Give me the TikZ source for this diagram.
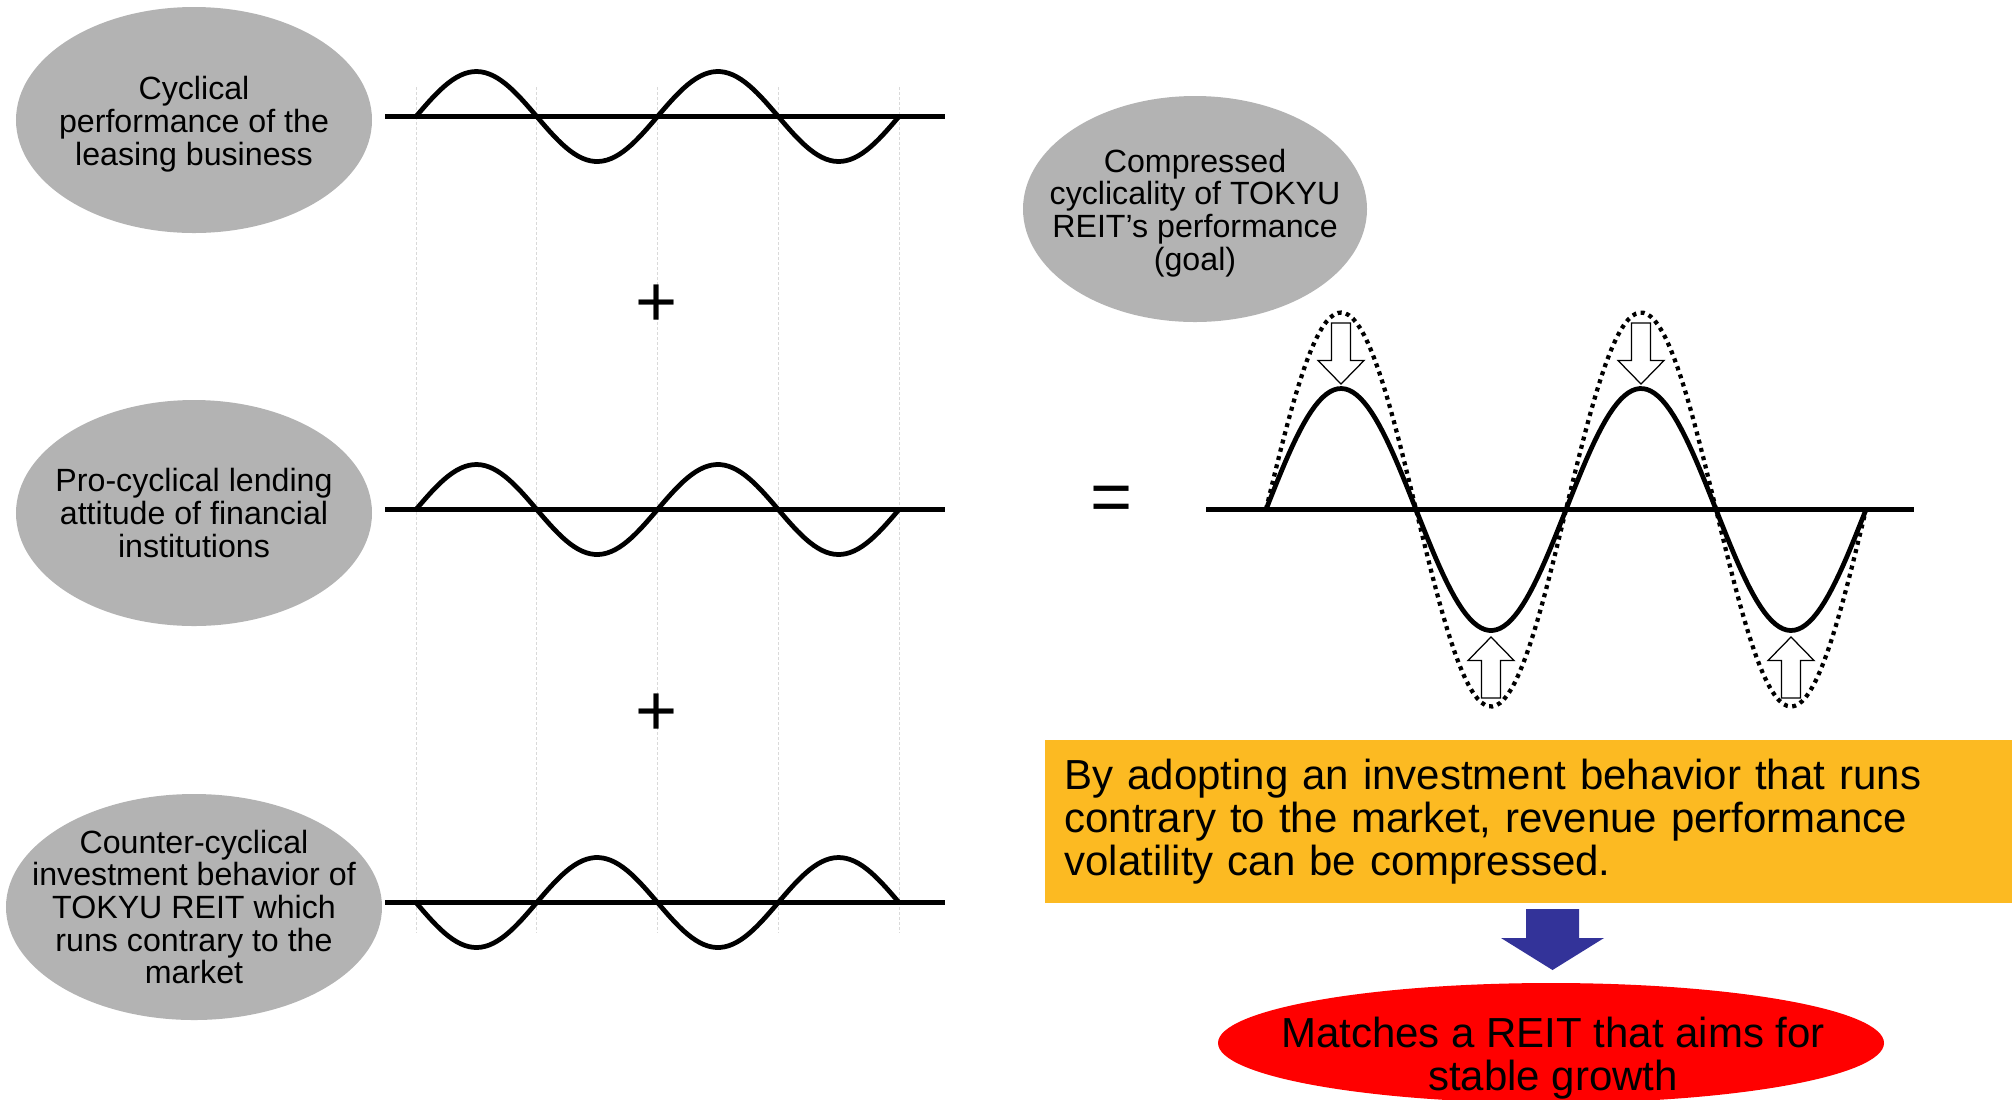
\documentclass[tikz,border=0pt]{standalone}
\usepackage{fontspec}
\setmainfont{Liberation Sans}
\usepackage{tikz}
\usetikzlibrary{shapes.geometric}
\usepackage{xcolor}
\definecolor{ovalgray}{RGB}{179,179,179}
\definecolor{noteorange}{RGB}{252,186,34}
\definecolor{arrowblue}{RGB}{51,51,153}
\definecolor{goalred}{RGB}{255,0,0}

\begin{document}
\begin{tikzpicture}[
    x=0.2mm,
    y=-0.2mm,
    wave/.style={line width=0.95mm},
    guide/.style={line width=0.2mm, draw=black!15, dash pattern=on 0.6mm off 0.4mm}
]

\tikzstyle{oval}=[
    ellipse,
    fill=ovalgray,
    inner sep=0pt,
    minimum width=71.2mm,
    minimum height=45.2mm
]
\tikzstyle{ovaltext}=[align=center, inner sep=0pt, font=\fontsize{18.3}{18.6}\selectfont]
\tikzstyle{bigtext}=[font=\fontsize{23.9}{24.4}\selectfont]
\tikzstyle{sign}=[inner sep=0pt, font=\fontsize{41}{41}\selectfont]

\useasboundingbox (0,0) rectangle (2012,1099);

% three drivers
\node[oval] (lease) at (194,120) {};
\node[ovaltext] (leaseT) at (194,124) {Cyclical\\performance of the\\leasing business};
\node[oval] (lend) at (194,513) {};
\node[ovaltext] (lendT) at (lend) {Pro-cyclical lending\\attitude of financial\\institutions};
\node[oval, minimum width=75.2mm] (counter) at (194,907) {};
\node[ovaltext] (counterT) at (counter) {Counter-cyclical\\investment behavior of\\TOKYU REIT which\\runs contrary to the\\market};

% guide lines
\foreach \gx in {416,536.75,657.5,778.25,899}
    \draw[guide] (\gx,87) -- (\gx,933);

% small cycles
\foreach \ay in {116.5,509.5} {
    \draw[wave] (385,\ay) -- (945,\ay);
    \draw[wave] plot[domain=0:720, samples=120] ({416+\x/180*120.75},{\ay-45*sin(\x)});
}
\draw[wave] (385,902.5) -- (945,902.5);
\draw[wave] plot[domain=0:720, samples=120] ({416+\x/180*120.75},{902.5+45*sin(\x)});

\node[sign] (plusA) at (657,306) {+};
\node[sign] (plusB) at (657,715) {+};
\node[sign] (equal) at (1112,504) {=};

% result
\node[oval, minimum width=68.8mm] (goal) at (1195,209) {};
\node[ovaltext] (goalT) at (1195,213) {Compressed\\cyclicality of TOKYU\\REIT’s performance\\(goal)};

\draw[wave] (1206,509.5) -- (1914,509.5);
\draw[line width=0.85mm, dash pattern=on 0.8mm off 0.9mm]
    plot[domain=0:720, samples=160] ({1266+\x/180*150},{509.5-197*sin(\x)});
\draw[wave] plot[domain=0:720, samples=160] ({1266+\x/180*150},{509.5-121*sin(\x)});

\foreach \ax/\ay/\d in {1341/384/1, 1641/384/1, 1491/637/-1, 1791/637/-1}
    \filldraw[fill=white, draw=black, line width=0.25mm]
        (\ax,\ay) -- ({\ax-23},{\ay-23.5*\d}) -- ({\ax-9.5},{\ay-23.5*\d})
        -- ({\ax-9.5},{\ay-61*\d}) -- ({\ax+9.5},{\ay-61*\d})
        -- ({\ax+9.5},{\ay-23.5*\d}) -- ({\ax+23},{\ay-23.5*\d}) -- cycle;

% conclusion
\node[fill=noteorange, anchor=north west, minimum height=32.6mm, text width=185.8mm,
      inner xsep=3.8mm, inner ysep=0pt, align=left, bigtext] (note) at (1045,740)
    {By adopting an investment behavior that runs\\contrary to the market, revenue performance\\volatility can be compressed.};

\fill[arrowblue] (1526,909) -- (1579,909) -- (1579,938) -- (1604,938)
    -- (1552.5,970) -- (1501,938) -- (1526,938) -- cycle;

\node[ellipse, fill=goalred, inner sep=0pt, minimum width=133.2mm, minimum height=24mm] (stable) at (1551,1043) {};
\node[bigtext, align=center, inner sep=0pt] (stableT) at (1553,1058) {Matches a REIT that aims for\\stable growth};

\end{tikzpicture}
\end{document}
